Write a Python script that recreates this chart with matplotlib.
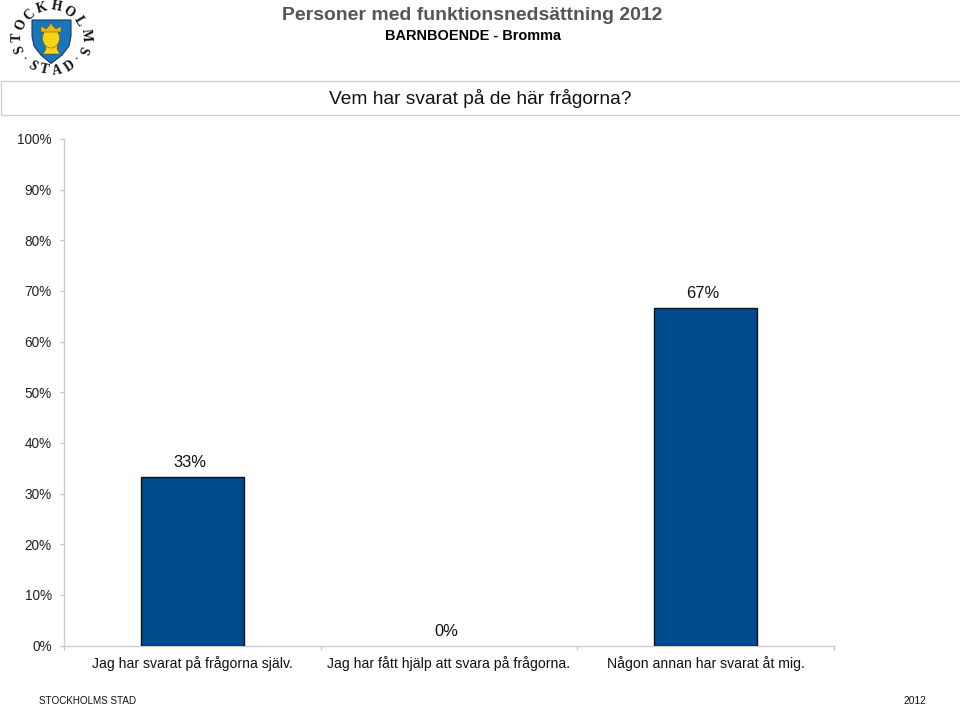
import math
import matplotlib
matplotlib.use("Agg")
import matplotlib.pyplot as plt
from matplotlib.patches import Rectangle, Polygon, Circle, Ellipse

plt.rcParams['font.family'] = ['Liberation Sans', 'DejaVu Sans']

categories = ["Jag har svarat på frågorna själv.",
              "Jag har fått hjälp att svara på frågorna.",
              "Någon annan har svarat åt mig."]
values = [33.3, 0, 66.7]
value_labels = ["33%", "0%", "67%"]
yticks = list(range(0, 101, 10))
title1 = "Personer med funktionsnedsättning 2012"
title2 = "BARNBOENDE - Bromma"
question = "Vem har svarat på de här frågorna?"
footer_left = "STOCKHOLMS STAD"
footer_right = "2012"

W, H = 960, 704
PX = 0.72
fig = plt.figure(figsize=(W / 100, H / 100), dpi=100, facecolor="white")

# overlay in pixel coordinates
ov = fig.add_axes([0, 0, 1, 1], zorder=0)
ov.set_xlim(0, W); ov.set_ylim(H, 0); ov.axis("off")

ov.text(472.5, 16, title1, fontsize=19.4 * PX, fontweight="bold", color="#555555", ha="center", va="center")
ov.text(473, 36, title2, fontsize=14.5 * PX, fontweight="bold", color="#000000", ha="center", va="center")
ov.add_patch(Rectangle((0.5, 80.5), 965, 34, fc="white", ec="#cccccc", lw=0.9))
ov.text(480, 98, question, fontsize=19.2 * PX, color="#111111", ha="center", va="center")
ov.text(39, 700.5, footer_left, fontsize=9.9 * PX, color="#111111", ha="left", va="center")
ov.text(903, 700.5, footer_right, fontsize=10.3 * PX, color="#111111", ha="left", va="center")

# city emblem
shield = [(32, 20), (71, 20), (71, 36), (69, 46), (62, 55), (51, 63.5), (41, 55), (34, 46), (32, 36)]
ov.add_patch(Polygon(shield, fc="#1b75bb", ec="#0b3a66", lw=0.8))
ov.add_patch(Polygon([(45, 42), (58, 42), (57, 49), (60, 54), (43, 54), (46, 49)],
                     fc="#f7d417", ec="#6b5a00", lw=0.4))
ov.add_patch(Ellipse((51, 38), 17, 20, fc="#f7d417", ec="#6b5a00", lw=0.4))
ov.add_patch(Polygon([(41, 32), (41, 26), (46, 29), (51, 24), (56, 29), (61, 26), (61, 32)],
                     fc="#e8b81a", ec="#6b5a00", lw=0.4))
ov.add_patch(Circle((51, 25), 1.2, fc="#d9a514", ec="none"))
cx, cy = 51, 38
emblem = [("S", 20, 49), ("T", 17, 37), ("O", 21, 25), ("C", 30, 15), ("K", 42, 8), ("H", 57, 7),
          ("O", 69, 12), ("L", 79, 21), ("M", 86, 35), ("S", 82, 50), ("•", 77, 58), ("D", 70, 66),
          ("A", 57, 71), ("T", 44, 70), ("S", 32, 66), ("•", 25, 58)]
for ch, x, y in emblem:
    ang = math.degrees(math.atan2(x - cx, cy - y))
    if y > 55:
        ang = ang - 180 if ang > 0 else ang + 180
    ov.text(x, y, ch, fontsize=(6 if ch == "•" else 13.5) * PX, family="Liberation Serif", fontweight="bold",
            color="#111111", ha="center", va="center", rotation=-ang, rotation_mode="anchor")

# chart
L, R, T, B = 64, 834, 139, 645.5
ax = fig.add_axes([L / W, 1 - B / H, (R - L) / W, (B - T) / H], zorder=1)
ax.patch.set_alpha(0)
xs = list(range(len(categories)))
ax.bar(xs, values, width=0.4, color="#004b8d", edgecolor="#111111",
       linewidth=[1.0 if v > 0 else 0 for v in values], zorder=3)
ax.set_xlim(-0.5, 2.5)
ax.set_ylim(0, 100)
ax.set_yticks(yticks)
ax.set_yticklabels([f"{v}%" for v in yticks], fontsize=13.6 * PX, color="#222222")
ax.set_xticks([-0.5, 0.5, 1.5, 2.5])
ax.set_xticklabels([])
ax.tick_params(axis="both", color="#c4c4c4", width=0.9, length=3, pad=5.8)
for s in ("top", "right"):
    ax.spines[s].set_visible(False)
for s in ("left", "bottom"):
    ax.spines[s].set_color("#cccccc")
    ax.spines[s].set_linewidth(1)
for x, c in zip(xs, categories):
    ax.annotate(c, (x, 0), xytext=(0, -13), textcoords="offset points", ha="center", va="center",
                fontsize=14 * PX, color="#111111", annotation_clip=False)
for x, v, lab in zip(xs, values, value_labels):
    ax.annotate(lab, (x, v), xytext=(-2, 10), textcoords="offset points", ha="center", va="center",
                fontsize=16.5 * PX, color="#111111", zorder=5)

fig.savefig("out.png", dpi=100, facecolor="white")
